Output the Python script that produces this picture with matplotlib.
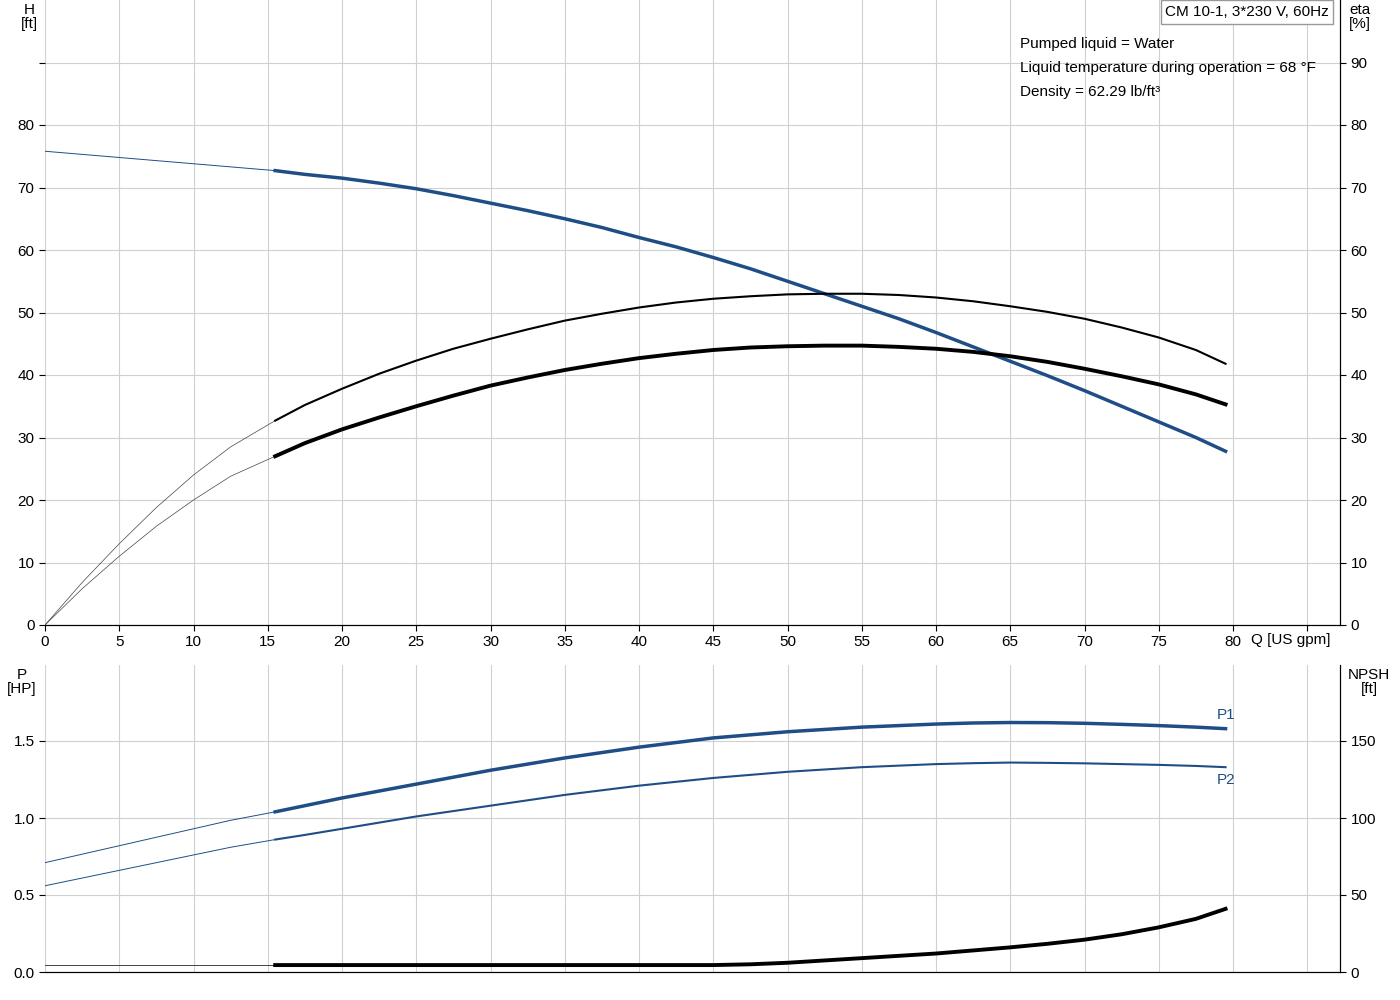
import matplotlib.pyplot as plt

plt.rcParams['font.family'] = ['Liberation Sans', 'DejaVu Sans']
blue = '#1f4e86'

# pump curve data
q = [0, 2.5, 5, 7.5, 10, 12.5, 15.5, 17.5, 20, 22.5, 25, 27.5, 30, 32.5, 35, 37.5, 40, 42.5,
     45, 47.5, 50, 52.5, 55, 57.5, 60, 62.5, 65, 67.5, 70, 72.5, 75, 77.5, 79.5]
head = [75.8, 75.3, 74.8, 74.3, 73.8, 73.3, 72.7, 72.1, 71.5, 70.7, 69.8, 68.7, 67.5, 66.3, 65.0,
        63.6, 62.0, 60.5, 58.8, 57.0, 55.0, 53.0, 51.0, 49.0, 46.8, 44.5, 42.2, 39.9, 37.5, 35.0,
        32.5, 30.0, 27.8]
eta_pump = [0, 6.8, 13, 18.8, 24, 28.5, 32.7, 35.2, 37.8, 40.2, 42.3, 44.2, 45.8, 47.3, 48.7,
            49.8, 50.8, 51.6, 52.2, 52.6, 52.9, 53.0, 53.0, 52.8, 52.4, 51.8, 51.0, 50.1, 49.0,
            47.6, 46.0, 44.0, 41.8]
eta_total = [0, 5.8, 11, 15.8, 20, 23.8, 27.0, 29.1, 31.3, 33.2, 35.0, 36.7, 38.3, 39.6, 40.8,
             41.8, 42.7, 43.4, 44.0, 44.4, 44.6, 44.7, 44.7, 44.5, 44.2, 43.7, 43.0, 42.1, 41.0,
             39.8, 38.5, 36.9, 35.3]
p1 = [0.71, 0.765, 0.82, 0.875, 0.93, 0.985, 1.04, 1.08, 1.13, 1.175, 1.22, 1.265, 1.31, 1.35,
      1.39, 1.425, 1.46, 1.49, 1.52, 1.54, 1.56, 1.575, 1.59, 1.60, 1.61, 1.617, 1.62, 1.619,
      1.615, 1.608, 1.60, 1.59, 1.58]
p2 = [0.56, 0.61, 0.66, 0.71, 0.76, 0.81, 0.86, 0.89, 0.93, 0.97, 1.01, 1.045, 1.08, 1.115,
      1.15, 1.18, 1.21, 1.235, 1.26, 1.28, 1.30, 1.315, 1.33, 1.34, 1.35, 1.356, 1.36, 1.358,
      1.355, 1.35, 1.345, 1.338, 1.33]
npsh = [4.5] * 19 + [5, 6, 7.5, 9, 10.5, 12, 14, 16, 18.3, 21, 24.5, 29, 34.5, 41]
k = 6  # index where the operating range starts (15.5 gpm)

fig = plt.figure(figsize=(14, 10), dpi=100)
ax = fig.add_axes([45/1400, 1-625/1000, 1295/1400, 625/1000])
bx = fig.add_axes([45/1400, 1-972/1000, 1295/1400, 307/1000])
xmax = 1295/14.85

def style(a):
    a.set_xlim(0, xmax)
    a.set_xticks(range(0, 90, 5))
    a.grid(True, color='#d0d0d0', linewidth=0.8)
    for s in ['top', 'left']:
        a.spines[s].set_visible(False)
    a.tick_params(labelsize=11, colors='black', length=4)

style(ax)
ax.set_ylim(0, 100)
ax.set_yticks(range(0, 100, 10))
ax.set_yticklabels([str(v) if v <= 80 else '' for v in range(0, 100, 10)])
ax.set_xticklabels([str(v) if v <= 80 else '' for v in range(0, 90, 5)])
ax.tick_params(axis='y', left=False)
ay = ax.twinx()
ay.set_ylim(0, 100)
ay.set_yticks(range(0, 100, 10))
ay.tick_params(labelsize=11, length=4)
for s in ['top', 'left']:
    ay.spines[s].set_visible(False)

ax.plot(q[:k+1], head[:k+1], color=blue, lw=0.7)
ax.plot(q[k:], head[k:], color=blue, lw=2.5)
ax.plot(q[:k+1], eta_pump[:k+1], color='#444444', lw=0.5)
ax.plot(q[k:], eta_pump[k:], color='black', lw=1.5)
ax.plot(q[:k+1], eta_total[:k+1], color='#444444', lw=0.5)
ax.plot(q[k:], eta_total[k:], color='black', lw=2.8)

fig.text(29/1400, 1-17/1000, 'H\n[ft]', ha='center', va='center', fontsize=11, linespacing=1.0)
fig.text(1360/1400, 1-17/1000, 'eta\n[%]', ha='center', va='center', fontsize=11, linespacing=1.0)
fig.text(1251/1400, 1-640/1000, 'Q [US gpm]', ha='left', va='center', fontsize=11)
fig.text(1247/1400, 1-12/1000, 'CM 10-1, 3*230 V, 60Hz', ha='center', va='center', fontsize=11,
         bbox=dict(facecolor='white', edgecolor='#999999', boxstyle='square,pad=0.3'))
for i, t in enumerate(['Pumped liquid = Water', 'Liquid temperature during operation = 68 °F',
                       'Density = 62.29 lb/ft³']):
    fig.text(1020/1400, 1-(44+24*i)/1000, t, ha='left', va='center', fontsize=11)

style(bx)
bx.set_xticklabels([])
bx.tick_params(axis='x', length=0)
bx.set_ylim(0, 307/154)
bx.set_yticks([0, 0.5, 1.0, 1.5])
bx.set_yticklabels(['0.0', '0.5', '1.0', '1.5'])
bx.tick_params(axis='y', left=False)
by = bx.twinx()
by.set_ylim(0, 30700/154)
by.set_yticks([0, 50, 100, 150])
by.tick_params(labelsize=11, length=4)
for s in ['top', 'left']:
    by.spines[s].set_visible(False)

bx.plot(q[:k+1], p1[:k+1], color=blue, lw=0.7)
bx.plot(q[k:], p1[k:], color=blue, lw=2.5)
bx.plot(q[:k+1], p2[:k+1], color=blue, lw=0.7)
bx.plot(q[k:], p2[k:], color=blue, lw=1.5)
by.plot(q[:k+1], npsh[:k+1], color='#444444', lw=0.7)
by.plot(q[k:], npsh[k:], color='black', lw=2.8)
bx.text(79.5, p1[-1] + 0.06, 'P1', color=blue, fontsize=11, ha='center')
bx.text(79.5, p2[-1] - 0.11, 'P2', color=blue, fontsize=11, ha='center')

fig.text(22/1400, 1-682/1000, 'P\n[HP]', ha='center', va='center', fontsize=11, linespacing=1.0)
fig.text(1369/1400, 1-682/1000, 'NPSH\n[ft]', ha='center', va='center', fontsize=11, linespacing=1.0)

fig.savefig('out.png', dpi=100)
